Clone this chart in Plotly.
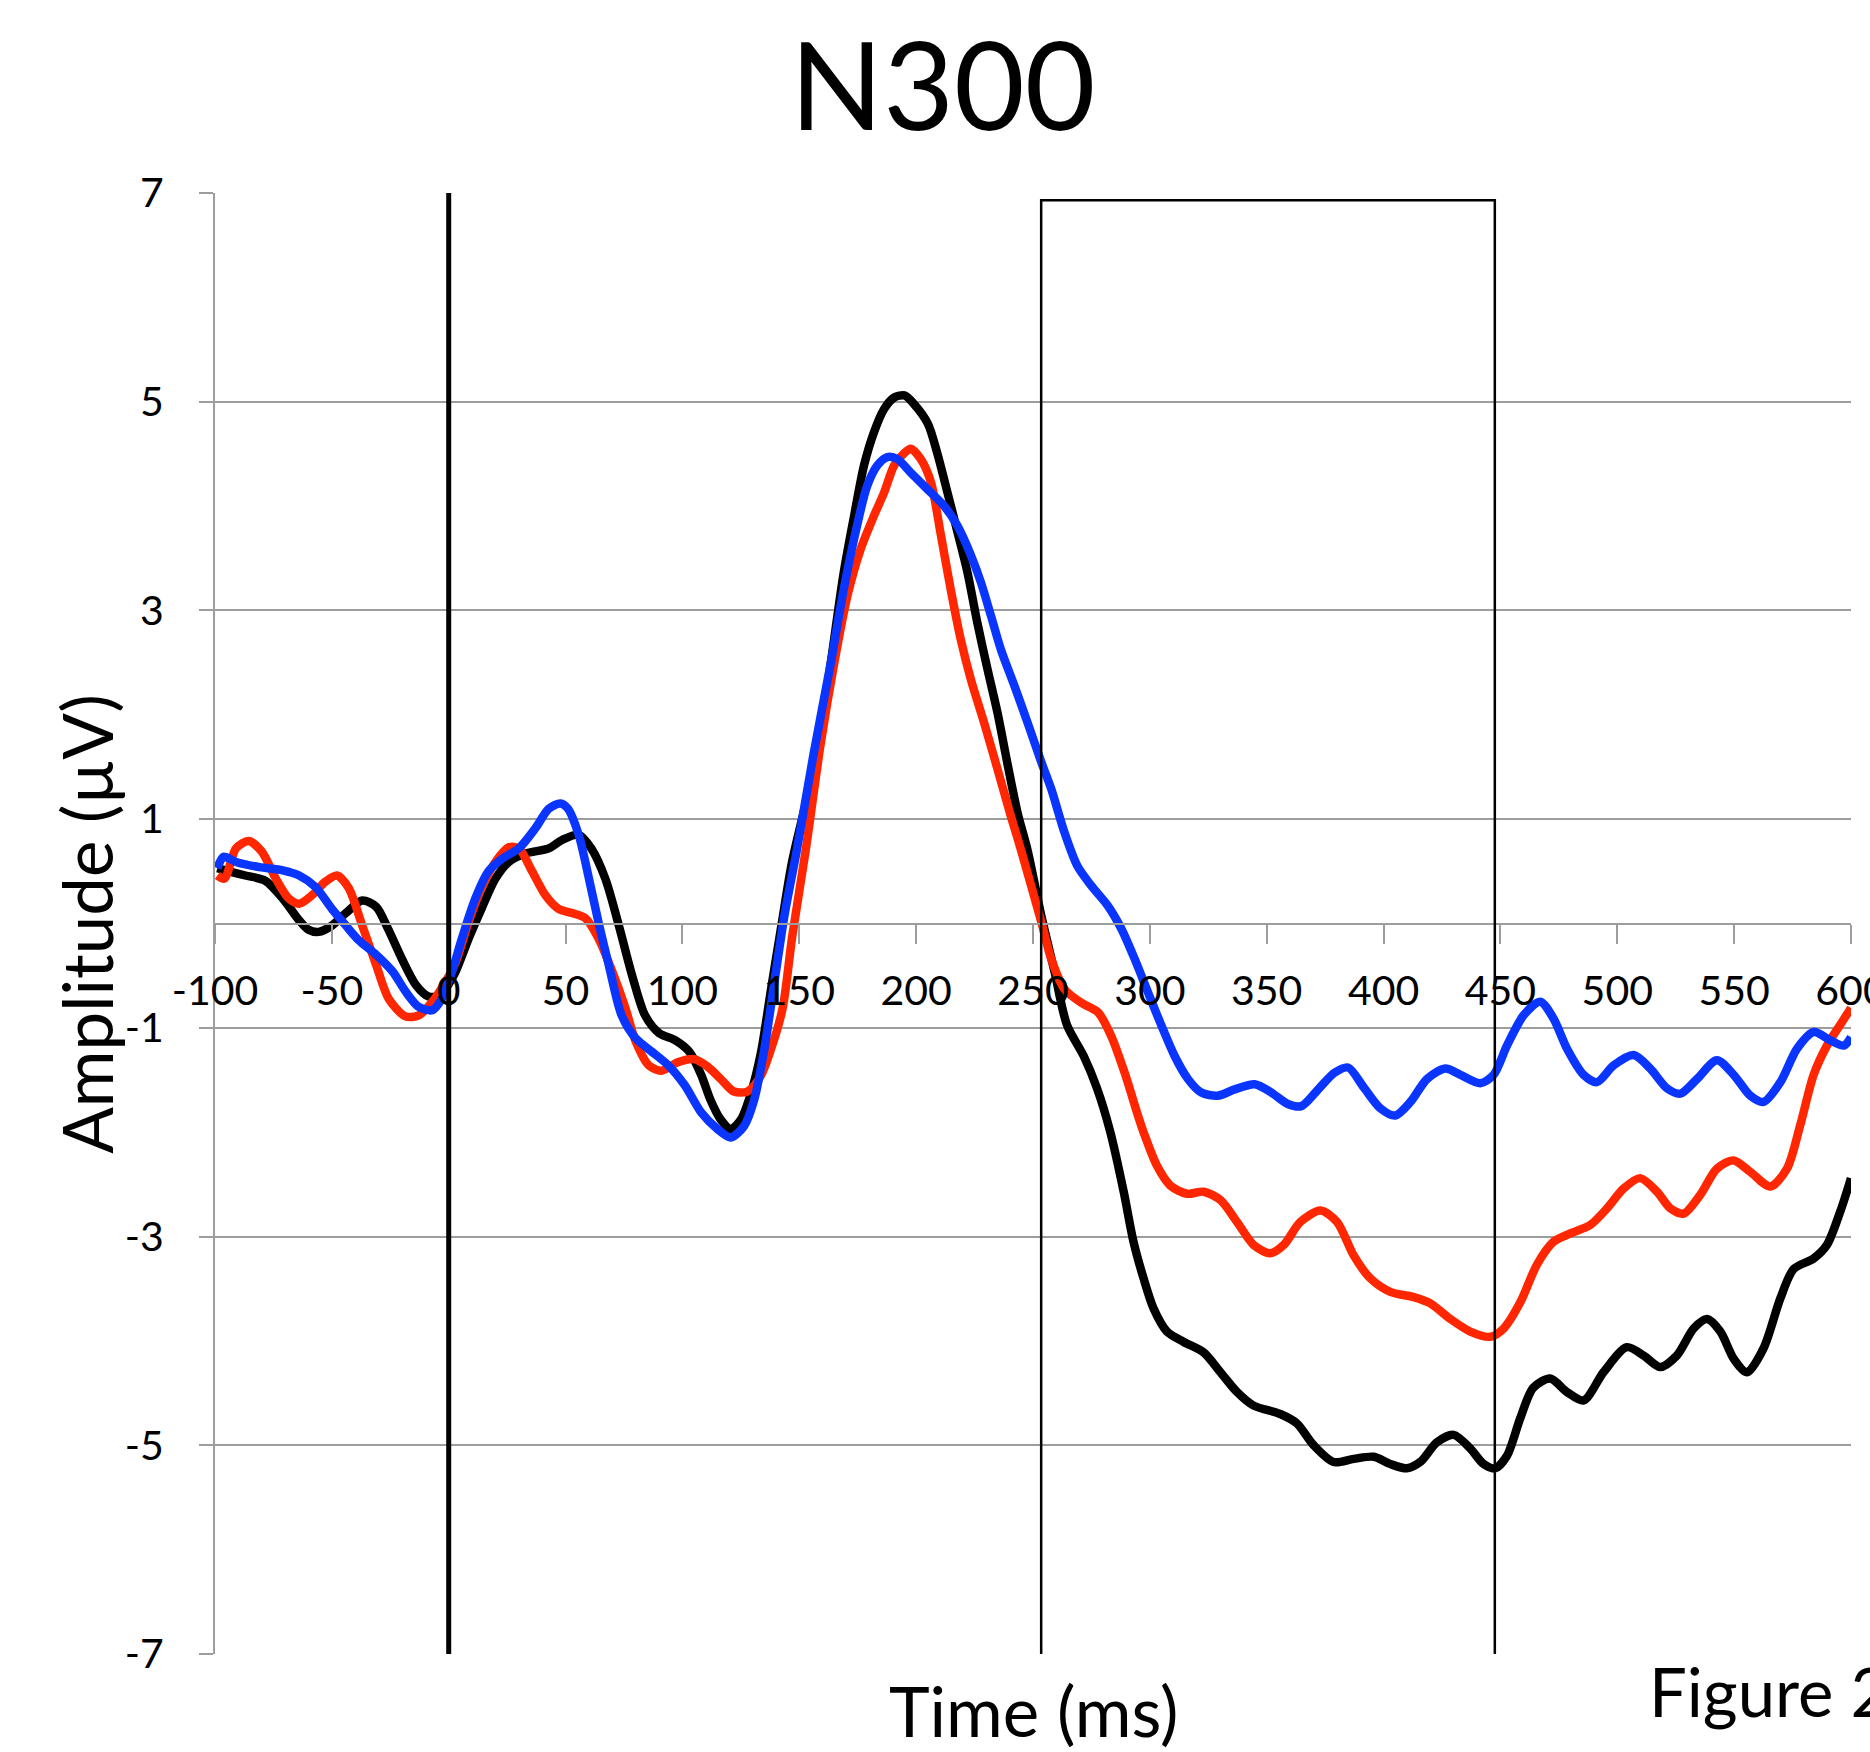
import plotly.graph_objects as go

# ---------------- data ----------------
black_t = [-99, -94, -87, -78.5, -71, -64, -60, -55.6, -50, -44, -37, -31, -26, -20, -14, -8.6, -4, 0, 3, 8.6, 14, 20,
           25.7, 32.8, 42.8, 48.5, 55.6, 61, 67, 72.8, 78.5, 84, 90, 97, 103, 108, 112, 116.4, 120.7, 125, 129, 133.5,
           138, 142.5, 147, 157.8, 163.5, 169, 173.5, 177.7, 182, 186.3, 190.6, 195, 199, 205, 209, 213.4,
           217.7, 222, 226.2, 230.5, 234.8, 239, 243.4, 247.6, 253.6, 259.3, 264.5, 271.7, 277.4, 283.1, 288.8, 293,
           297.3, 301.6, 307.3, 314.5, 323, 330.2, 337.3, 344.4, 355.8, 362.9, 370.1, 378.6, 387.2, 395.8, 402.9, 410,
           415.7, 422.9, 430, 437.1, 442.8, 447.8, 452.8, 458.5, 464, 471.3, 478.5, 485.6, 494.1, 504.1, 511.3, 518.4,
           525.5, 532.7, 538.4, 544.1, 549.8, 555.5, 562.6, 569.8, 575.5, 584, 589.7, 595.4, 600]
black_v = [0.53, 0.50, 0.46, 0.41, 0.24, 0.03, -0.06, -0.08, -0.02, 0.10, 0.22, 0.16, -0.05, -0.34, -0.59, -0.70, -0.69,
           -0.58, -0.46, -0.14, 0.14, 0.43, 0.59, 0.67, 0.72, 0.80, 0.85, 0.72, 0.43, -0.02, -0.50, -0.88, -1.05, -1.12,
           -1.23, -1.45, -1.69, -1.88, -1.97, -1.88, -1.65, -1.25, -0.62, 0.0, 0.6, 1.64, 2.50, 3.36, 3.91,
           4.39, 4.71, 4.93, 5.04, 5.06, 4.98, 4.79, 4.51, 4.13, 3.75, 3.36, 2.88, 2.44, 2.02, 1.54, 1.06, 0.71, 0.07,
           -0.47, -0.97, -1.27, -1.58, -2.0, -2.57, -3.05, -3.40, -3.69, -3.91, -4.01, -4.11, -4.30, -4.49, -4.62,
           -4.70, -4.79, -5.0, -5.16, -5.13, -5.11, -5.18, -5.22, -5.16, -4.97, -4.90, -5.03, -5.18, -5.22, -5.10,
           -4.74, -4.45, -4.36, -4.49, -4.57, -4.30, -4.06, -4.14, -4.25, -4.14, -3.88, -3.79, -3.91, -4.17, -4.30,
           -4.07, -3.59, -3.31, -3.21, -3.08, -2.76, -2.44]

red_t = [-99, -96, -91, -85.6, -80, -74, -68.5, -64, -58.5, -52.8, -47.8, -42.8, -37, -31, -25.7, -18.5, -12.8, -7,
         -1.4, 3, 8.6, 14, 20, 25.7, 30, 35.7, 41.4, 47, 52.8, 58.5, 64, 70, 75.6, 80, 85.6, 91, 98, 105, 110.7, 116.4,
         122, 127.8, 133.5, 137.8, 142.8, 147, 152.8, 159, 165, 170.6, 176.3, 182, 186.3, 190.6, 195, 197.7, 202,
         206.3, 210.6, 214.8, 219, 223.4, 229, 234.8, 240.5, 244.8, 253.6, 257.8, 263.5, 270.7, 277.8, 283.5, 289.2,
         294.9, 297.3, 303, 308.7, 315.9, 323, 330.2, 337.3, 344.4, 351.5, 357.3, 364.4, 373, 380.1, 387.2, 394.3,
         402.9, 412.9, 420, 428.6, 437.1, 445.7, 451.4, 458.5, 465.6, 472.7, 479.9, 488.4, 495.6, 502.7, 509.8, 517,
         522.7, 528.4, 535.5, 542.6, 549.8, 556.9, 565.5, 572.6, 578.3, 584, 589.7, 595.4, 600]
red_v = [0.46, 0.43, 0.72, 0.79, 0.69, 0.43, 0.24, 0.19, 0.27, 0.40, 0.46, 0.34, -0.02, -0.40, -0.72, -0.89, -0.88,
         -0.75, -0.56, -0.37, 0.02, 0.34, 0.59, 0.73, 0.72, 0.50, 0.27, 0.14, 0.10, 0.05, -0.14, -0.46, -0.81, -1.13,
         -1.36, -1.41, -1.33, -1.30, -1.37, -1.49, -1.61, -1.61, -1.46, -1.21, -0.82, -0.12, 0.71, 1.70, 2.50, 3.14,
         3.59, 3.91, 4.13, 4.39, 4.51, 4.55, 4.45, 4.23, 3.72, 3.20, 2.73, 2.34, 1.93, 1.48, 1.03, 0.71, 0.01, -0.34,
         -0.63, -0.76, -0.85, -1.08, -1.43, -1.84, -2.0, -2.32, -2.51, -2.59, -2.57, -2.65, -2.86, -3.08, -3.16,
         -3.08, -2.86, -2.75, -2.86, -3.18, -3.40, -3.53, -3.58, -3.64, -3.79, -3.91, -3.96, -3.88, -3.63, -3.27,
         -3.05, -2.97, -2.89, -2.73, -2.54, -2.44, -2.57, -2.73, -2.78, -2.60, -2.35, -2.27, -2.38, -2.52, -2.35,
         -1.93, -1.45, -1.17, -0.97, -0.81]

blue_t = [-99, -96.3, -91, -81, -71, -64, -57, -50, -44, -38.5, -31, -24, -18.5, -12.8, -7, -2.9, 1.4, 5.7, 11.4, 17,
          22.8, 30, 37, 42.8, 47.8, 51, 55.6, 60, 64, 68.5, 74, 80, 87, 94, 101, 108, 115, 120.7, 126.4, 130.7, 135,
          139.3, 143.6, 149, 156, 163.5, 169, 175, 179, 183.4, 187.7, 192, 197.7, 204.9, 212, 217.7, 223.4, 227.7, 232,
          236.2, 242, 247.6, 253.5, 257.8, 263.5, 269, 275, 282, 287.8, 293.5, 299.2, 305, 310.6, 316.3, 322, 329,
          336.3, 344.9, 352, 359, 364.8, 372, 379, 384.8, 391.5, 398.6, 405, 411.5, 418.6, 426.4, 432.9, 441.4, 447.1,
          452.8, 459.9, 467, 472.7, 478.5, 485.6, 491.3, 498.4, 507, 514.1, 521.3, 527, 534.1, 542.6, 549.8, 556.9,
          562.6, 569.8, 576.9, 584.1, 591.2, 596.9, 600]
blue_v = [0.53, 0.64, 0.59, 0.54, 0.51, 0.46, 0.35, 0.14, -0.02, -0.16, -0.30, -0.46, -0.65, -0.80, -0.83, -0.72,
          -0.46, -0.14, 0.24, 0.50, 0.62, 0.72, 0.91, 1.10, 1.15, 1.10, 0.85, 0.43, 0.02, -0.40, -0.88, -1.10, -1.23,
          -1.36, -1.55, -1.81, -1.97, -2.05, -1.94, -1.69, -1.21, -0.57, 0.07, 0.71, 1.61, 2.50, 3.20, 3.84, 4.19,
          4.39, 4.47, 4.45, 4.32, 4.16, 4.00, 3.81, 3.53, 3.27, 2.95, 2.63, 2.28, 1.93, 1.55, 1.29, 0.87, 0.55, 0.36,
          0.17, -0.05, -0.34, -0.66, -0.98, -1.27, -1.49, -1.62, -1.65, -1.59, -1.54, -1.62, -1.73, -1.75, -1.59,
          -1.43, -1.38, -1.57, -1.77, -1.84, -1.71, -1.49, -1.39, -1.45, -1.53, -1.45, -1.17, -0.88, -0.75, -0.91,
          -1.20, -1.45, -1.52, -1.36, -1.26, -1.39, -1.58, -1.63, -1.49, -1.31, -1.45, -1.65, -1.71, -1.52, -1.20,
          -1.04, -1.12, -1.17, -1.09]

x_tickvals = [-100, -50, 0, 50, 100, 150, 200, 250, 300, 350, 400, 450, 500, 550, 600]
x_ticktext = ["-100", "-50", "0", "50", "100", "150", "200", "250", "300", "350", "400", "450", "500", "550", "600"]
y_tickvals = [-7, -5, -3, -1, 1, 3, 5, 7]
y_ticktext = ["-7", "-5", "-3", "-1", "1", "3", "5", "7"]

WINDOW_START, WINDOW_END = 253.5, 447.6   # analysis window box (ms)
WINDOW_BOTTOM, WINDOW_TOP = -7.03, 6.93
ONSET_TOP = 7.07

FONT = "Lato"
GRID = "#9d9d9d"

fig = go.Figure()
for t, v, c in [(black_t, black_v, "#000000"), (red_t, red_v, "#ff2600"), (blue_t, blue_v, "#0a35ff")]:
    fig.add_trace(go.Scatter(x=t, y=v, mode="lines",
                             line=dict(color=c, width=8.5, shape="spline", smoothing=0.8),
                             showlegend=False, hoverinfo="skip"))

# stimulus onset line
fig.add_shape(type="line", xref="x", yref="y", x0=0, x1=0, y0=-7, y1=ONSET_TOP,
              line=dict(color="black", width=5), layer="above")
# analysis window rectangle
fig.add_shape(type="rect", xref="x", yref="y", x0=WINDOW_START, x1=WINDOW_END,
              y0=WINDOW_BOTTOM, y1=WINDOW_TOP, line=dict(color="black", width=2.5), layer="above")

fig.update_layout(
    width=1870, height=1752, autosize=False,
    margin=dict(l=215, r=19, t=193, b=98, pad=0, autoexpand=False),
    paper_bgcolor="white", plot_bgcolor="white",
    font=dict(family=FONT, color="black"),
    xaxis=dict(range=[-100, 600], anchor="free", position=0.5, automargin=False,
               tickvals=x_tickvals, ticktext=x_ticktext,
               showgrid=False, zeroline=False,
               showline=True, linecolor=GRID, linewidth=2,
               ticks="outside", ticklen=19, tickwidth=2, tickcolor=GRID,
               tickfont=dict(family=FONT, size=41, color="black"),
               ticklabelstandoff=12, ticklabeloverflow="allow"),
    yaxis=dict(range=[-7, 7], tickvals=y_tickvals, ticktext=y_ticktext, automargin=False,
               showgrid=True, gridcolor=GRID, gridwidth=2, zeroline=False,
               showline=True, linecolor=GRID, linewidth=2,
               ticks="outside", ticklen=14, tickwidth=2, tickcolor=GRID,
               tickfont=dict(family=FONT, size=41, color="black"),
               ticklabelstandoff=27),
    annotations=[
        dict(text="N300", xref="paper", yref="paper", x=0.4446, y=1.0752,
             xanchor="center", yanchor="middle", showarrow=False,
             font=dict(family=FONT, size=122, color="black")),
        dict(text="Time (ms)", xref="paper", yref="paper", x=0.5002, y=-0.039,
             xanchor="center", yanchor="middle", showarrow=False,
             font=dict(family=FONT, size=69, color="black")),
        dict(text="Amplitude (µV)", xref="paper", yref="paper", x=-0.0787, y=0.5,
             xanchor="center", yanchor="middle", textangle=-90, showarrow=False,
             font=dict(family=FONT, size=69, color="black")),
        dict(text="Figure 2", xref="paper", yref="paper", x=0.8756, y=-0.0253,
             xanchor="left", yanchor="middle", showarrow=False,
             font=dict(family=FONT, size=67, color="black")),
    ],
)

fig.write_html("out.html", config={"displayModeBar": False},
               post_script="document.body.style.margin='0';")
